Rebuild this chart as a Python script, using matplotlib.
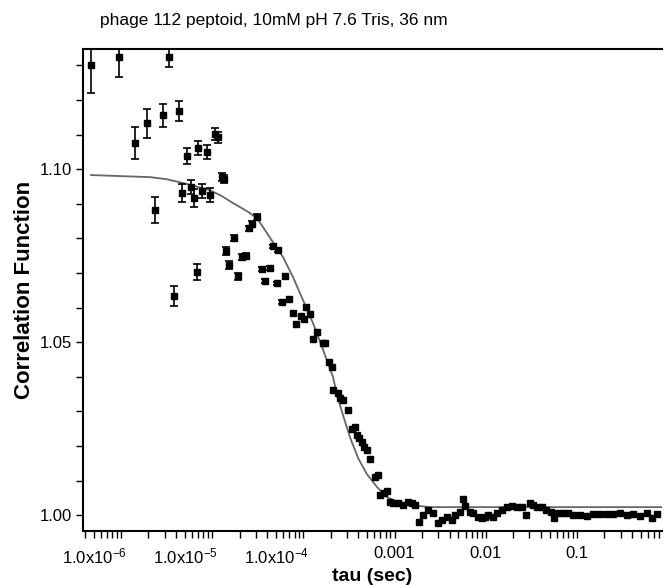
import matplotlib
matplotlib.use("Agg")
import matplotlib.pyplot as plt
import matplotlib.transforms as mtransforms
import numpy as np

# measured correlation points (log10 of tau in sec, g2, error)
log_tau = [-6.329, -6.022, -5.846, -5.715, -5.627, -5.539, -5.474, -5.419, -5.364, -5.331,
           -5.276, -5.232, -5.200, -5.167, -5.156, -5.112, -5.057, -5.024, -4.969, -4.936,
           -4.893, -4.871, -4.849, -4.816, -4.761, -4.717, -4.673, -4.629, -4.596, -4.564,
           -4.509, -4.454, -4.421, -4.366, -4.333, -4.289, -4.278, -4.235, -4.202, -4.158,
           -4.114, -4.081, -4.026, -3.993, -3.971, -3.928, -3.895, -3.851, -3.785, -3.763,
           -3.719, -3.686, -3.675, -3.621, -3.599, -3.566, -3.511, -3.467, -3.434, -3.412,
           -3.390, -3.357, -3.336, -3.303, -3.270, -3.215, -3.182, -3.160, -3.116, -3.083,
           -3.050, -3.018, -2.963, -2.908, -2.853, -2.809, -2.776, -2.732, -2.689, -2.634,
           -2.579, -2.524, -2.480, -2.425, -2.371, -2.338, -2.283, -2.250, -2.228, -2.173,
           -2.140, -2.086, -2.042, -2.009, -1.976, -1.921, -1.877, -1.822, -1.768, -1.713,
           -1.658, -1.603, -1.559, -1.515, -1.482, -1.439, -1.384, -1.340, -1.285, -1.252,
           -1.208, -1.154, -1.099, -1.044, -0.967, -0.890, -0.825, -0.748, -0.671, -0.605,
           -0.528, -0.452, -0.386, -0.309, -0.232, -0.178, -0.123]
g2 = [1.1301, 1.1324, 1.1075, 1.1133, 1.0881, 1.1156, 1.1324, 1.0633, 1.1168, 1.0931,
      1.1038, 1.0948, 1.0916, 1.0702, 1.1061, 1.0936, 1.1049, 1.0925, 1.1101, 1.1092,
      1.0977, 1.0971, 1.0763, 1.0723, 1.0801, 1.0691, 1.0746, 1.0749, 1.0829, 1.0841,
      1.0861, 1.0711, 1.0676, 1.0714, 1.0777, 1.0670, 1.0766, 1.0616, 1.0691, 1.0624,
      1.0584, 1.0552, 1.0575, 1.0566, 1.0601, 1.0581, 1.0509, 1.0529, 1.0497, 1.0497,
      1.0442, 1.0428, 1.0361, 1.0353, 1.0338, 1.0332, 1.0303, 1.0249, 1.0254, 1.0231,
      1.0223, 1.0211, 1.0197, 1.0188, 1.0162, 1.0110, 1.0116, 1.0058, 1.0064, 1.0069,
      1.0038, 1.0035, 1.0035, 1.0029, 1.0038, 1.0035, 1.0029, 0.9980, 1.0000, 1.0014,
      1.0006, 0.9977, 0.9986, 0.9994, 0.9986, 1.0000, 1.0009, 1.0046, 1.0026, 1.0009,
      1.0006, 0.9994, 0.9991, 0.9994, 1.0000, 0.9994, 1.0006, 1.0014, 1.0023, 1.0026,
      1.0023, 1.0023, 1.0000, 1.0035, 1.0029, 1.0023, 1.0023, 1.0014, 1.0009, 0.9991,
      1.0006, 1.0006, 1.0006, 1.0000, 1.0000, 0.9997, 1.0003, 1.0003, 1.0003, 1.0003,
      1.0006, 1.0000, 1.0003, 0.9997, 1.0006, 0.9991, 1.0003]
g2_err = [0.0081, 0.0058, 0.0047, 0.0042, 0.0038, 0.0033, 0.0029, 0.0029, 0.0029, 0.0026,
          0.0023, 0.0020, 0.0026, 0.0023, 0.0020, 0.0020, 0.0020, 0.0020, 0.0017, 0.0015,
          0.0012, 0.0012, 0.0012, 0.0012, 0.0010, 0.0010, 0.0010, 0.0008, 0.0008, 0.0008,
          0.0008, 0.0006, 0.0006, 0.0006, 0.0005, 0.0005, 0.0005, 0.0005]

# fitted curve
fit_log_tau = [-6.329, -6.011, -5.682, -5.500, -5.353, -5.200, -5.024, -4.900, -4.772, -4.673,
               -4.586, -4.509, -4.454, -4.399, -4.311, -4.224, -4.114, -4.004, -3.895, -3.796,
               -3.675, -3.632, -3.566, -3.489, -3.401, -3.303, -3.193, -3.083, -2.974, -2.831,
               -2.612, -0.068]
fit_g2 = [1.0983, 1.0980, 1.0977, 1.0971, 1.0962, 1.0952, 1.0939, 1.0923, 1.0902, 1.0887,
          1.0873, 1.0857, 1.0837, 1.0815, 1.0780, 1.0746, 1.0688, 1.0621, 1.0555, 1.0486,
          1.0399, 1.0347, 1.0289, 1.0225, 1.0165, 1.0118, 1.0081, 1.0052, 1.0038, 1.0029,
          1.0023, 1.0023]

xtick_vals = [1e-6, 1e-5, 1e-4, 1e-3, 1e-2, 1e-1]
xtick_labels = ["1.0x10$^{-6}$", "1.0x10$^{-5}$", "1.0x10$^{-4}$", "0.001", "0.01", "0.1"]
ytick_vals = [1.00, 1.05, 1.10]
ytick_labels = ["1.00", "1.05", "1.10"]

plt.rcParams["font.family"] = ["Liberation Sans", "DejaVu Sans"]
plt.rcParams["mathtext.default"] = "regular"

tau = 10 ** np.array(log_tau)
err = np.zeros(len(tau))
err[:len(g2_err)] = g2_err

fig = plt.figure(figsize=(6.64, 5.85), dpi=100)
ax = fig.add_axes([0.125, 0.0923, 0.872, 0.8237])

ax.plot(10 ** np.array(fit_log_tau), fit_g2, color="#666666", lw=1.3, zorder=2)
ax.errorbar(tau, g2, yerr=np.where(err > 0, err, np.nan), fmt="s", color="black",
            ms=5, elinewidth=1.2, capsize=3, capthick=1.2, zorder=3)

ax.set_xscale("log")
ax.set_xlim(10 ** -6.417, 10 ** -0.068)
ax.set_ylim(0.9954, 1.1347)

ax.set_xticks(xtick_vals)
ax.set_xticklabels(xtick_labels, fontsize=12)
ax.xaxis.set_minor_locator(matplotlib.ticker.LogLocator(base=10, subs=np.arange(2, 10)))
ax.xaxis.set_minor_formatter(matplotlib.ticker.NullFormatter())
ax.set_yticks(ytick_vals)
ax.set_yticklabels(ytick_labels, fontsize=12)
ax.set_yticks(np.arange(1.00, 1.131, 0.01), minor=True)

ax.tick_params(which="both", direction="out", length=5, width=1, pad=3)
ax.tick_params(axis="x", which="both", pad=6)

# exponent labels sit to the left of their tick
shift = mtransforms.ScaledTranslation(6 / 100, 0, fig.dpi_scale_trans)
for lbl in ax.get_xticklabels()[:3]:
    lbl.set_horizontalalignment("right")
    lbl.set_transform(lbl.get_transform() + shift)

for side in ["left", "bottom", "top"]:
    ax.spines[side].set_linewidth(1.5)
ax.spines["right"].set_visible(False)

ax.set_xlabel("tau (sec)", fontsize=14, fontweight="bold", labelpad=1)
ax.set_ylabel("Correlation Function", fontsize=16, fontweight="bold", labelpad=3)
fig.text(100 / 664, 1 - 20 / 585, "phage 112 peptoid, 10mM pH 7.6 Tris, 36 nm",
         fontsize=12.5, ha="left", va="center")

fig.savefig("out.png", dpi=100)
